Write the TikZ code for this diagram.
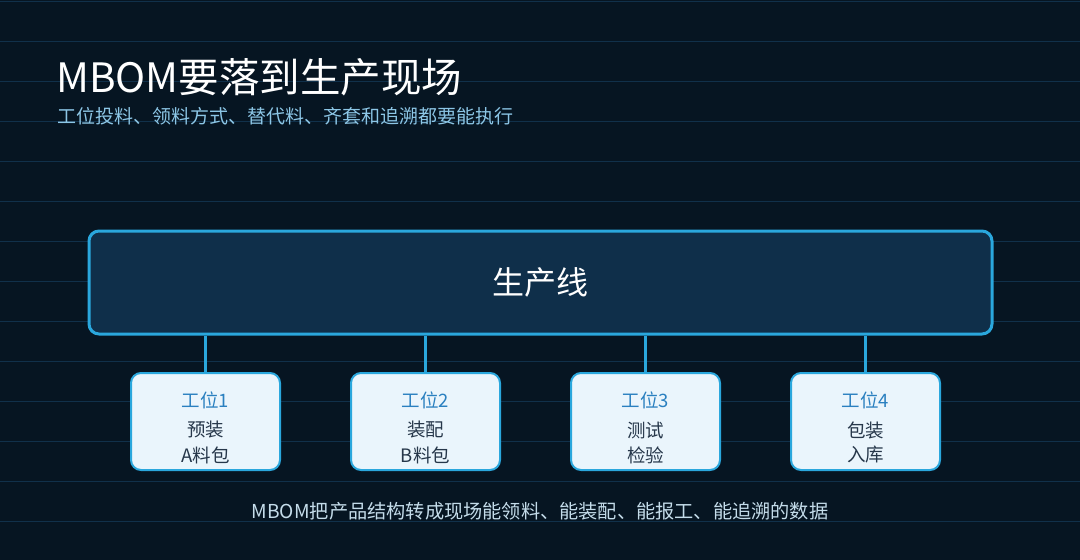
\documentclass[tikz,border=0pt]{standalone}
\usepackage{fontspec}
\setmainfont{Noto Sans CJK SC}
\definecolor{bgnavy}{HTML}{061522}
\definecolor{gridline}{HTML}{10304A}
\definecolor{linkblue}{HTML}{2AA7DD}
\definecolor{linefill}{HTML}{0F2F4A}
\definecolor{stationfill}{HTML}{EAF5FC}
\definecolor{stationhead}{HTML}{2A80C0}
\definecolor{stationtext}{HTML}{26374A}
\definecolor{subblue}{HTML}{8CC6E6}
\definecolor{notegray}{HTML}{C4DCEA}
\begin{document}
\begin{tikzpicture}[x=1pt, y=-1pt,
    lineblock/.style={draw=linkblue, line width=3pt, fill=linefill, rounded corners=10pt,
        minimum width=903pt, minimum height=103pt, inner sep=0pt, text=white,
        font=\fontsize{32}{38}\selectfont},
    station/.style={draw=linkblue, line width=2pt, fill=stationfill, rounded corners=10pt,
        minimum width=149pt, minimum height=97pt, inner sep=0pt},
    headtext/.style={inner sep=0pt, text=stationhead, font=\fontsize{18.5}{22}\selectfont},
    worktext/.style={inner sep=0pt, text=stationtext, font=\fontsize{18.5}{22}\selectfont},
    link/.style={draw=linkblue, line width=3pt}]
                \useasboundingbox (0,0) rectangle (1080,560);
                \fill [bgnavy] (0,0) rectangle (1080,560);
                \foreach \y in {1,41,...,521}
                    \draw [gridline, line width=1pt] (0,\y)--(1080,\y);
                % titles
                \node [anchor=west, inner sep=0pt, text=white, font=\fontsize{40.5}{46}\selectfont] (title) at (56,77) {MBOM要落到生产现场};
                \node [anchor=west, inner sep=0pt, text=subblue, font=\fontsize{19}{23}\selectfont] (subtitle) at (57,116) {工位投料、领料方式、替代料、齐套和追溯都要能执行};
                % production line
                \node [lineblock] (line) at (540.5,282.5) {生产线};
                % stations
                \node [station] (st1) at (205.5,421.5) {};
                \node [station] (st2) at (425.5,421.5) {};
                \node [station] (st3) at (645.5,421.5) {};
                \node [station] (st4) at (865.5,421.5) {};
                \node [headtext] (h1) at (205.5,400) {工位1};
                \node [worktext] (a1) at (205.5,430) {预装};
                \node [worktext] (b1) at (205.5,455) {A料包};
                \node [headtext] (h2) at (425.5,400) {工位2};
                \node [worktext] (a2) at (425.5,430) {装配};
                \node [worktext] (b2) at (425.5,455) {B料包};
                \node [headtext] (h3) at (645.5,400) {工位3};
                \node [worktext] (a3) at (645.5,430) {测试};
                \node [worktext] (b3) at (645.5,455) {检验};
                \node [headtext] (h4) at (865.5,400) {工位4};
                \node [worktext] (a4) at (865.5,430) {包装};
                \node [worktext] (b4) at (865.5,455) {入库};
                \draw [link] (line.south -| st1.north)--(st1.north);
                \draw [link] (line.south -| st2.north)--(st2.north);
                \draw [link] (line.south -| st3.north)--(st3.north);
                \draw [link] (line.south -| st4.north)--(st4.north);
                % note
                \node [inner sep=0pt, text=notegray, font=\fontsize{19.2}{23}\selectfont] (note) at (540,511) {MBOM把产品结构转成现场能领料、能装配、能报工、能追溯的数据};
\end{tikzpicture}
\end{document}
